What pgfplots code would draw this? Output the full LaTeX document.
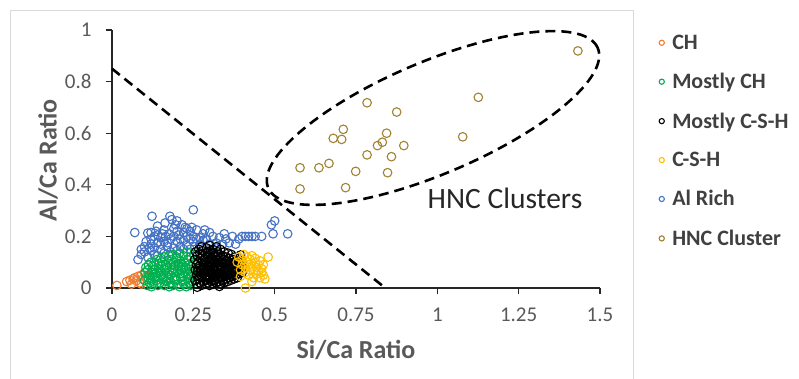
\documentclass[border=0pt]{standalone}
\usepackage{pgfplots}
\pgfplotsset{compat=1.18}
\usepackage{fontspec}
\setmainfont{Carlito}
\definecolor{chO}{RGB}{237,125,49}
\definecolor{mch}{RGB}{0,176,80}
\definecolor{csh}{RGB}{255,192,0}
\definecolor{alr}{RGB}{68,114,196}
\definecolor{hnc}{RGB}{160,130,50}
\definecolor{axgray}{RGB}{89,89,89}
\definecolor{txt}{RGB}{64,64,64}
\definecolor{frame}{RGB}{217,217,217}
\begin{document}
\begin{tikzpicture}
\useasboundingbox (0pt,0pt) rectangle (799pt,-379pt);
\draw[frame, line width=0.8pt] (10pt,-10pt) rectangle (633pt,-395pt);
\begin{axis}[
  at={(112pt,-288pt)}, anchor=south west,
  scale only axis, width=488pt, height=258pt,
  xmin=0, xmax=1.5, ymin=0, ymax=1,
  axis lines*=left,
  axis line style={line width=1.3pt, black!85},
  xtick={0,0.25,0.5,0.75,1,1.25,1.5},
  ytick={0,0.2,0.4,0.6,0.8,1},
  tick align=outside, major tick length=6pt,
  tick style={line width=1.2pt, black!85},
  /pgf/number format/assume math mode=true,
  ticklabel style={font=\fontsize{21}{25}\selectfont, text=axgray},
  xticklabel style={yshift=-10pt},
  yticklabel style={xshift=-11pt},
  xlabel={\textbf{Si/Ca Ratio}},
  ylabel={\textbf{Al/Ca Ratio}},
  xlabel style={at={(axis description cs:0.5,-0.24)}, anchor=center},
  ylabel style={at={(axis description cs:-0.131,0.495)}, anchor=center},
  label style={font=\fontsize{26}{30}\selectfont, text=axgray},
  clip=false,
  legend style={at={(axis description cs:1.12,0.988)}, anchor=north west, draw=none, fill=none,
    font=\bfseries\fontsize{22}{26}\selectfont, text=txt, row sep=19.5pt, inner sep=0pt,
    nodes={inner sep=1.5pt}},
  legend cell align=left,
  legend image code/.code={\path[draw=none,fill=none] (0pt,-3pt) rectangle (12pt,3pt);
    \draw[mark repeat=2, mark phase=2, #1, mark size=2.6pt] plot coordinates {(0pt,0pt)(3pt,0pt)(6pt,0pt)};},
  every axis plot/.append style={only marks, mark=o, mark size=4.3pt, mark options={line width=1.1pt}},
]
% Al Rich drawn first (behind others)
\addplot[alr, forget plot] coordinates {
(0.07,0.215)(0.11,0.213)(0.123,0.278)(0.178,0.278)(0.184,0.265)(0.163,0.252)(0.25,0.303)(0.2,0.26)
(0.215,0.245)(0.23,0.23)(0.14,0.24)(0.16,0.225)(0.19,0.23)(0.12,0.215)(0.13,0.2)(0.15,0.195)
(0.175,0.21)(0.205,0.205)(0.22,0.215)(0.24,0.22)(0.26,0.225)(0.28,0.21)(0.3,0.215)(0.27,0.195)
(0.29,0.19)(0.31,0.2)(0.33,0.195)(0.345,0.21)(0.35,0.19)(0.37,0.2)(0.39,0.19)(0.4,0.2)
(0.41,0.2)(0.42,0.2)(0.44,0.2)(0.36,0.175)(0.38,0.17)(0.34,0.17)(0.32,0.175)(0.3,0.17)
(0.25,0.18)(0.24,0.19)(0.22,0.185)(0.2,0.18)(0.18,0.19)(0.16,0.18)(0.14,0.175)(0.12,0.17)
(0.1,0.16)(0.09,0.13)(0.08,0.11)(0.1,0.14)(0.12,0.145)(0.13,0.155)(0.15,0.15)(0.17,0.16)
(0.19,0.155)(0.21,0.16)(0.23,0.165)(0.255,0.16)(0.27,0.17)(0.28,0.185)(0.3,0.15)(0.32,0.155)
(0.14,0.125)(0.16,0.135)(0.18,0.14)(0.2,0.145)(0.22,0.15)(0.24,0.15)(0.11,0.12)(0.13,0.13)
(0.15,0.17)(0.17,0.175)(0.19,0.2)(0.21,0.19)(0.23,0.2)(0.25,0.2)(0.26,0.19)(0.135,0.22)
(0.155,0.21)(0.195,0.245)(0.2,0.22)(0.225,0.235)(0.245,0.235)(0.285,0.225)(0.105,0.18)(0.12,0.19)
(0.14,0.205)(0.165,0.2)(0.115,0.155)(0.09,0.15)(0.43,0.2)(0.46,0.2)
(0.49,0.245)(0.5,0.26)(0.495,0.21)(0.54,0.21)
};
% CH
\addplot[chO] coordinates {
(0.015,0.01)(0.045,0.025)(0.055,0.03)(0.065,0.035)(0.07,0.04)(0.075,0.028)(0.08,0.045)
(0.085,0.02)(0.09,0.05)(0.095,0.035)(0.1,0.06)(0.06,0.015)(0.105,0.045)(0.09,0.015)
};
\addlegendentry{CH}
% Mostly CH
\addplot[mch] coordinates {
(0.100,0.03)(0.102,0.06)(0.104,0.08)
(0.108,0.01)(0.111,0.04)(0.109,0.07)(0.112,0.09)
(0.116,0.02)(0.114,0.05)
(0.121,0.005)(0.119,0.03)(0.122,0.06)(0.124,0.085)(0.12,0.10)
(0.128,0.015)(0.131,0.04)(0.129,0.07)(0.132,0.09)
(0.136,0.03)(0.134,0.055)(0.137,0.11)
(0.141,0.01)(0.139,0.045)(0.142,0.075)(0.144,0.095)
(0.148,0.02)(0.151,0.05)(0.149,0.065)(0.152,0.085)(0.15,0.115)
(0.156,0.035)(0.154,0.1)
(0.161,0.01)(0.159,0.045)(0.162,0.07)(0.164,0.09)(0.16,0.12)
(0.168,0.025)(0.171,0.055)(0.169,0.08)(0.172,0.105)
(0.176,0.005)(0.174,0.04)(0.177,0.065)(0.175,0.125)
(0.181,0.02)(0.179,0.05)(0.182,0.09)(0.184,0.11)
(0.188,0.01)(0.191,0.035)(0.189,0.06)(0.192,0.075)(0.19,0.1)(0.187,0.13)
(0.196,0.045)(0.194,0.085)(0.197,0.115)
(0.201,0.015)(0.199,0.03)(0.202,0.065)(0.204,0.095)(0.2,0.12)
(0.208,0.005)(0.211,0.04)(0.209,0.055)(0.212,0.08)(0.21,0.105)(0.207,0.135)
(0.216,0.025)(0.214,0.07)(0.217,0.09)
(0.221,0.015)(0.219,0.045)(0.222,0.06)(0.224,0.1)(0.22,0.125)
(0.228,0.005)(0.231,0.035)(0.229,0.075)(0.232,0.11)(0.23,0.14)
(0.236,0.02)(0.234,0.055)(0.237,0.09)
(0.241,0.01)(0.239,0.04)(0.242,0.065)(0.244,0.085)(0.24,0.12)
(0.248,0.025)(0.251,0.05)(0.249,0.1)(0.252,0.13)
(0.125,0.045)(0.145,0.06)(0.165,0.03)(0.185,0.07)(0.205,0.085)(0.225,0.08)(0.245,0.045)
};
\addlegendentry{Mostly CH}
% Mostly C-S-H
\addplot[black] coordinates {
(0.255,0.03)(0.256,0.07)(0.254,0.11)(0.257,0.14)
(0.26,0.015)(0.261,0.05)(0.259,0.09)(0.262,0.125)
(0.265,0.035)(0.266,0.075)(0.264,0.1)(0.267,0.15)
(0.27,0.02)(0.271,0.06)(0.269,0.085)(0.272,0.115)(0.27,0.135)
(0.275,0.01)(0.276,0.045)(0.274,0.07)(0.277,0.105)(0.275,0.16)
(0.28,0.025)(0.281,0.055)(0.279,0.08)(0.282,0.095)(0.28,0.125)(0.278,0.145)
(0.285,0.04)(0.286,0.065)(0.284,0.11)(0.287,0.135)
(0.29,0.015)(0.291,0.03)(0.289,0.05)(0.292,0.075)(0.29,0.09)(0.288,0.12)(0.291,0.155)
(0.295,0.02)(0.296,0.06)(0.294,0.085)(0.297,0.1)(0.295,0.14)
(0.3,0.01)(0.301,0.035)(0.299,0.045)(0.302,0.07)(0.3,0.08)(0.298,0.105)(0.301,0.13)(0.3,0.165)
(0.305,0.025)(0.306,0.055)(0.304,0.065)(0.307,0.095)(0.305,0.115)(0.303,0.145)
(0.31,0.015)(0.311,0.04)(0.309,0.06)(0.312,0.075)(0.31,0.09)(0.308,0.11)(0.311,0.125)(0.31,0.15)
(0.315,0.03)(0.316,0.05)(0.314,0.07)(0.317,0.085)(0.315,0.1)(0.313,0.135)
(0.32,0.02)(0.321,0.045)(0.319,0.065)(0.322,0.08)(0.32,0.095)(0.318,0.12)(0.321,0.16)
(0.325,0.035)(0.326,0.055)(0.324,0.075)(0.327,0.105)(0.325,0.14)
(0.33,0.025)(0.331,0.045)(0.329,0.06)(0.332,0.09)(0.33,0.115)(0.328,0.13)
(0.335,0.015)(0.336,0.04)(0.334,0.07)(0.337,0.085)(0.335,0.1)(0.333,0.15)
(0.34,0.03)(0.341,0.055)(0.339,0.075)(0.342,0.11)(0.34,0.125)
(0.345,0.02)(0.346,0.045)(0.344,0.065)(0.347,0.095)(0.345,0.14)
(0.35,0.035)(0.351,0.06)(0.349,0.08)(0.352,0.105)(0.35,0.12)
(0.355,0.025)(0.356,0.05)(0.354,0.09)(0.357,0.135)
(0.36,0.04)(0.361,0.065)(0.359,0.075)(0.362,0.1)(0.36,0.115)
(0.365,0.03)(0.366,0.055)(0.364,0.085)(0.367,0.13)
(0.37,0.045)(0.371,0.07)(0.369,0.095)(0.372,0.11)
(0.375,0.035)(0.376,0.06)(0.374,0.08)(0.377,0.12)
(0.38,0.05)(0.381,0.075)(0.379,0.1)
(0.385,0.04)(0.386,0.065)(0.384,0.09)(0.387,0.115)
(0.39,0.055)(0.391,0.08)(0.389,0.105)
(0.4,0.06)(0.401,0.085)(0.399,0.1)
(0.262,0.003)(0.33,0.006)(0.395,0.128)
(0.268,0.045)(0.283,0.07)(0.293,0.04)(0.303,0.09)(0.313,0.055)(0.323,0.11)(0.333,0.08)
(0.343,0.05)(0.353,0.07)(0.363,0.05)(0.373,0.09)(0.283,0.1)(0.263,0.065)(0.298,0.12)
};
\addlegendentry{Mostly C-S-H}
% C-S-H
\addplot[csh] coordinates {
(0.385,0.1)(0.39,0.12)(0.395,0.07)(0.4,0.09)(0.4,0.11)(0.405,0.13)(0.41,0.06)(0.41,0.08)
(0.415,0.1)(0.415,0.12)(0.42,0.05)(0.42,0.09)(0.425,0.07)(0.425,0.11)(0.43,0.085)(0.43,0.125)
(0.435,0.04)(0.435,0.065)(0.44,0.1)(0.44,0.115)(0.445,0.055)(0.445,0.08)(0.45,0.09)(0.45,0.065)
(0.455,0.04)(0.455,0.105)(0.46,0.075)(0.46,0.06)(0.465,0.09)(0.47,0.035)(0.48,0.12)(0.41,0.0)
(0.395,0.045)(0.43,0.025)(0.465,0.05)
};
\addlegendentry{C-S-H}
\addlegendimage{alr}
\addlegendentry{Al Rich}
% HNC Cluster
\addplot[hnc] coordinates {
(1.432,0.919)(1.126,0.739)(1.078,0.586)(0.784,0.718)(0.875,0.682)(0.711,0.615)(0.680,0.580)
(0.706,0.576)(0.844,0.600)(0.831,0.565)(0.816,0.552)(0.897,0.552)(0.784,0.516)(0.859,0.509)
(0.667,0.483)(0.636,0.466)(0.578,0.466)(0.749,0.452)(0.847,0.447)(0.578,0.384)(0.718,0.389)
};
\addlegendentry{HNC Cluster}
% dividing line
\addplot[forget plot, black, no marks, sharp plot, line width=2.6pt, dash pattern=on 10pt off 6pt] coordinates {(0,0.85)(0.84,0)};
\node[font=\fontsize{29.5}{34}\selectfont, text={rgb,255:red,38;green,38;blue,38}] at (axis cs:1.208,0.349) {HNC Clusters};
\end{axis}
\draw[black, line width=2.6pt, dash pattern=on 10pt off 6pt, rotate around={23:(433pt,-118pt)}]
  (433pt,-118pt) ellipse [x radius=179pt, y radius=56pt];
\end{tikzpicture}
\end{document}
